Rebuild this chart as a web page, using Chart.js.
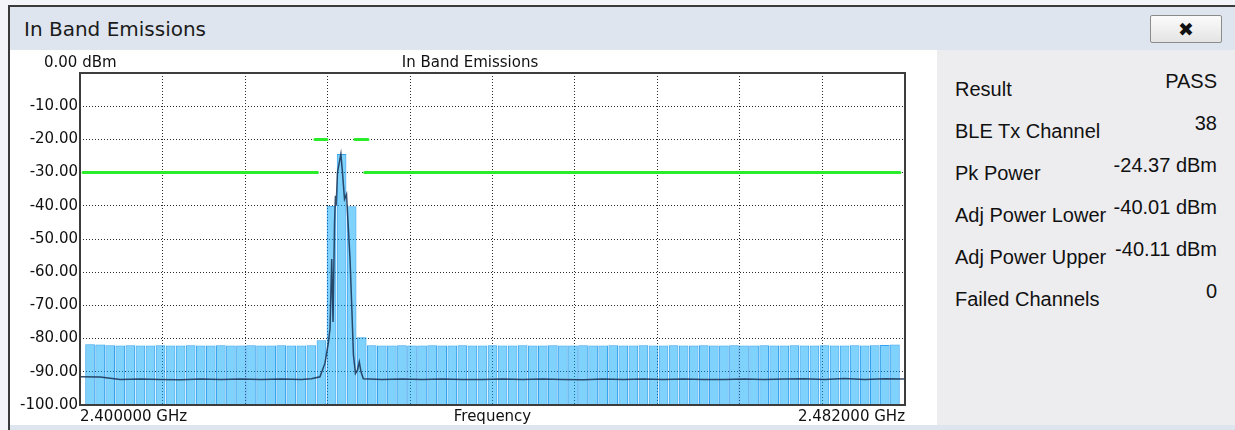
<!DOCTYPE html>
<html>
<head>
<meta charset="utf-8">
<title>In Band Emissions</title>
<script src="https://cdn.jsdelivr.net/npm/chart.js@4.4.0/dist/chart.umd.min.js"></script>
<style>
  body { margin: 0; width: 1235px; height: 430px; position: relative; overflow: hidden; background: #f3f5f8; font-family: "DejaVu Sans", sans-serif; }
  .abs { position: absolute; }
  #window { left: 8px; top: 5px; width: 1227px; height: 425px; border-left: 2px solid #3b3b3b; border-top: 2px solid #3b3b3b; background: #dee5ee; box-sizing: border-box; }
  #caption { left: 24px; top: 17px; font-size: 20px; color: #1b1b1b; }
  #close { left: 1150px; top: 15px; width: 70px; height: 26px; border: 1px solid #8c8c8c; border-radius: 2px; background: linear-gradient(#fbfbfb, #e4e4e4); text-align: center; font: 19px/26px "DejaVu Sans", sans-serif; color: #111; }
  #plotPanel { left: 10px; top: 50px; width: 927px; height: 375px; background: #fff; }
  #chartBox { left: 10px; top: 50px; width: 920px; height: 375px; }
  #topLabel { left: 44px; top: 53px; font-size: 15px; color: #111; white-space: nowrap; }
  #sidePanel { left: 937px; top: 50px; width: 298px; height: 375px; background: #ededf0; }
  .sumLabel, .sumValue { font-family: "Liberation Sans", Arial, sans-serif; font-size: 20px; color: #111; line-height: 24px; white-space: nowrap; }
  .sumValue { right: 18px; text-align: right; }
</style>
</head>
<body>
<div id="window" class="abs"></div>
<div id="caption" class="abs">In Band Emissions</div>
<div id="close" class="abs">✖</div>
<div id="plotPanel" class="abs"></div>
<div id="chartBox" class="abs"><canvas id="emissions" width="920" height="375"></canvas></div>
<div id="topLabel" class="abs">0.00 dBm</div>
<div id="sidePanel" class="abs"></div>

<script>
// frequency span of the plot (MHz) and the end labels of the axis
const freqMin = 2400;
const freqMax = 2482;
const xTickLabels = ['2.400000 GHz', '2.482000 GHz'];

// channel power per 1 MHz bin, 2401 .. 2481 MHz (dBm)
const firstChannel = 2401;
const channelPower = [
  -81.7, -81.8, -82.0, -82.1, -82.0, -82.1, -82.1, -82.0, -82.1, -82.1,
  -82.0, -82.1, -82.1, -82.0, -82.1, -82.1, -82.0, -82.1, -82.1, -82.0,
  -82.1, -82.1, -82.0, -80.5, -40.01, -24.37, -40.11, -79.6, -82.0, -82.1,
  -82.1, -82.0, -82.1, -82.1, -82.0, -82.1, -82.1, -82.0, -82.1, -82.1,
  -82.0, -82.1, -82.1, -82.0, -82.1, -82.1, -82.0, -82.1, -82.1, -82.0,
  -82.1, -82.1, -82.0, -82.1, -82.1, -82.0, -82.1, -82.1, -82.0, -82.1,
  -82.1, -82.0, -82.1, -82.1, -82.0, -82.1, -82.1, -82.0, -82.1, -82.1,
  -82.0, -82.1, -82.1, -82.0, -82.1, -82.1, -82.0, -82.1, -82.0, -81.9,
  -81.8
];

// measured spectrum trace
const traceFreqs = [
  2400, 2402, 2404, 2406, 2408, 2410, 2412, 2414, 2416, 2418, 2420, 2422, 2423,
  2423.85, 2424.35, 2424.68, 2424.85, 2425.02, 2425.15, 2425.30, 2425.39, 2425.46,
  2425.59, 2425.93, 2426.09, 2426.29, 2426.49, 2426.64, 2426.84, 2427.03, 2427.18,
  2427.38, 2427.58, 2427.76, 2427.93, 2428.16,
  2430, 2432, 2434, 2436, 2438, 2440, 2442, 2444, 2446, 2448, 2450, 2452, 2454,
  2456, 2458, 2460, 2462, 2464, 2466, 2468, 2470, 2472, 2474, 2476, 2478, 2480, 2482
];
const traceLevels = [
  -91.5, -91.6, -92.3, -92.2, -92.3, -92.4, -92.2, -92.3, -92.2, -92.3, -92.2, -92.3, -92.1,
  -91.5, -87.4, -81.4, -77.0, -56.0, -75.0, -45.0, -37.0, -40.0,
  -30.0, -24.37, -30.0, -38.0, -36.5, -45.0, -56.0, -72.0, -85.0,
  -90.5, -89.5, -87.0, -90.0, -92.1,
  -92.3, -92.2, -92.3, -92.2, -92.3, -92.3, -92.2, -92.3, -92.2, -92.3, -92.4, -92.2, -92.3,
  -92.2, -92.3, -92.2, -92.3, -92.3, -92.2, -92.3, -92.2, -92.1, -92.3, -92.0, -92.3, -92.1, -92.2
];

// spectrum mask (null breaks the line between segments)
const limitFreqs  = [2400.3, 2423.6, 2423.6, 2423.35, 2424.55, 2424.55, 2427.33, 2428.62, 2428.62, 2428.3, 2481.5];
const limitLevels = [-30, -30, null, -20, -20, null, -20, -20, null, -30, -30];

// result summary
const summaryLabels = ['Result', 'BLE Tx Channel', 'Pk Power', 'Adj Power Lower', 'Adj Power Upper', 'Failed Channels'];
const summaryValues = ['PASS', '38', '-24.37 dBm', '-40.01 dBm', '-40.11 dBm', '0'];

summaryLabels.forEach((text, i) => {
  const lab = document.createElement('div');
  lab.className = 'abs sumLabel';
  lab.style.left = '955px';
  lab.style.top = (77 + i * 42) + 'px';
  lab.textContent = text;
  document.body.appendChild(lab);

  const val = document.createElement('div');
  val.className = 'abs sumValue';
  val.style.top = (69 + i * 42) + 'px';
  val.textContent = summaryValues[i];
  document.body.appendChild(val);
});

const tickFont = { family: 'DejaVu Sans', size: 15 };

// solid frame around the plot area
const plotFrame = {
  id: 'plotFrame',
  afterDatasetsDraw(chart) {
    const { ctx, chartArea: a } = chart;
    ctx.save();
    ctx.strokeStyle = '#3d3d3d';
    ctx.lineWidth = 2;
    ctx.strokeRect(a.left, a.top, a.right - a.left, a.bottom - a.top);
    ctx.restore();
  }
};

new Chart(document.getElementById('emissions').getContext('2d'), {
  type: 'bar',
  data: {
    datasets: [
      {
        type: 'line',
        label: 'Trace',
        order: 0,
        data: traceFreqs.map((f, i) => ({ x: f, y: traceLevels[i] })),
        borderColor: 'rgba(22, 48, 82, 0.85)',
        borderWidth: 1.5,
        pointRadius: 0,
        tension: 0,
        fill: false
      },
      {
        type: 'line',
        label: 'Limit',
        order: 1,
        data: limitFreqs.map((f, i) => ({ x: f, y: limitLevels[i] })),
        borderColor: '#2bec2b',
        borderWidth: 3,
        borderCapStyle: 'round',
        pointRadius: 0,
        spanGaps: false,
        fill: false
      },
      {
        label: 'Channel power',
        order: 2,
        data: channelPower.map((p, i) => ({ x: firstChannel + i, y: p })),
        base: -100,
        backgroundColor: 'rgba(0, 165, 250, 0.5)',
        borderColor: 'rgba(0, 140, 235, 0.8)',
        borderWidth: 1,
        barPercentage: 0.96,
        categoryPercentage: 1
      }
    ]
  },
  options: {
    responsive: false,
    animation: false,
    devicePixelRatio: 1,
    layout: { padding: 0 },
    plugins: {
      legend: { display: false },
      tooltip: { enabled: false },
      title: {
        display: true,
        text: 'In Band Emissions',
        color: '#111',
        font: { family: 'DejaVu Sans', size: 15, weight: 'normal' },
        padding: { top: 4, bottom: 1 }
      }
    },
    scales: {
      x: {
        type: 'linear',
        min: freqMin,
        max: freqMax,
        offset: false,
        grid: { color: '#2a2a2a', lineWidth: 1, drawTicks: false, offset: false },
        border: { display: false, dash: [1, 2] },
        ticks: {
          count: 11,
          autoSkip: false,
          maxRotation: 0,
          align: 'inner',
          padding: 3,
          color: '#111',
          font: tickFont,
          callback: (v, i, ticks) => i === 0 ? xTickLabels[0] : (i === ticks.length - 1 ? xTickLabels[1] : '')
        },
        title: {
          display: true,
          text: 'Frequency',
          color: '#111',
          font: tickFont,
          padding: { top: 0, bottom: -1 }
        },
        afterFit(scale) { scale.height = 20; }
      },
      y: {
        min: -100,
        max: 0,
        grid: { color: '#2a2a2a', lineWidth: 1, drawTicks: false },
        border: { display: false, dash: [1, 2] },
        ticks: {
          stepSize: 10,
          padding: 2,
          color: '#111',
          font: tickFont,
          callback: v => v === 0 ? '' : v.toFixed(2)
        },
        afterFit(scale) { scale.width = 70; }
      },
      yPad: {
        type: 'linear',
        position: 'right',
        grid: { display: false, drawTicks: false },
        border: { display: false },
        ticks: { display: false },
        afterFit(scale) { scale.width = 25; }
      }
    }
  },
  plugins: [plotFrame]
});
</script>
</body>
</html>
